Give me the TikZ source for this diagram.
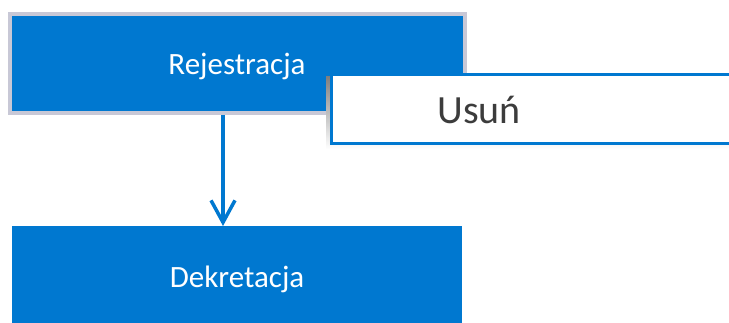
\documentclass[tikz,border=0pt]{standalone}
\usepackage{fontspec}
\setmainfont{Carlito}
\usetikzlibrary{arrows.meta}
\definecolor{msblue}{RGB}{0,120,208}
\definecolor{frame}{RGB}{200,200,214}
\definecolor{txtgray}{RGB}{60,60,60}
\definecolor{shade}{RGB}{220,220,220}
\begin{document}
\begin{tikzpicture}[x=1pt,y=-1pt,
  bluetext/.style={text=white,font=\fontsize{31}{36}\selectfont},
  conn/.style={draw=msblue,line width=3.5pt,-{Straight Barb[length=22pt,width=24pt,line width=3.5pt]}}]
\useasboundingbox (0,0) rectangle (729,323);
% Rejestracja with grey frame
\fill[frame] (8,12) rectangle (467,115);
\fill[msblue] (12,16) rectangle (463,111);
\node[bluetext] (rej) at (237,66) {Rejestracja};
\coordinate (rejb) at (223,115);
% Dekretacja
\fill[msblue] (12,226) rectangle (462,330);
\node[bluetext] (dek) at (237,279) {Dekretacja};
\coordinate (dekt) at (223,226);
\draw[conn] (rejb) -- (dekt);
% Usun popup
\fill[shade] (326,77) rectangle (740,149);
\draw[msblue,line width=3pt,fill=white] (331,75) rectangle (740,144);
\node[text=txtgray,font=\fontsize{40}{46}\selectfont,anchor=west] (usun) at (434,110) {Usuń};
\end{tikzpicture}
\end{document}
